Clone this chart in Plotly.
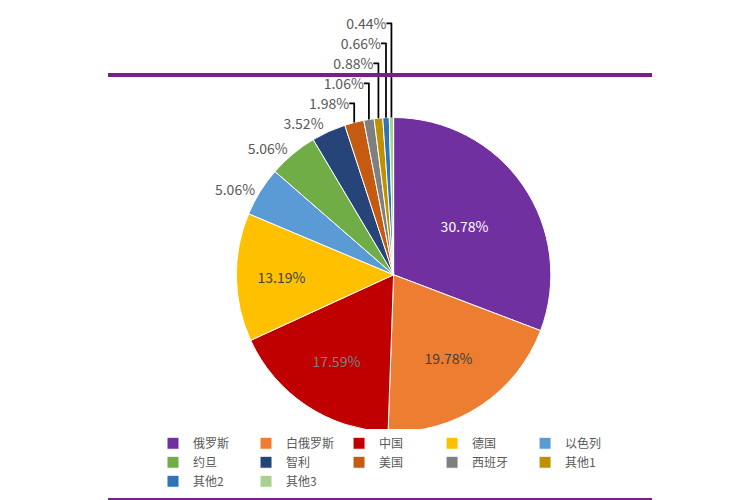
import plotly.graph_objects as go

# countries and shares (%)
countries = ["俄罗斯", "白俄罗斯", "中国", "德国", "以色列", "约旦", "智利", "美国", "西班牙", "其他1", "其他2", "其他3"]
shares = [30.78, 19.78, 17.59, 13.19, 5.06, 5.06, 3.52, 1.98, 1.06, 0.88, 0.66, 0.44]
colors = ["#7030a0", "#ed7d31", "#c00000", "#ffc000", "#5b9bd5", "#70ad47",
          "#264478", "#c55a11", "#7f7f7f", "#bf9000", "#2e75b6", "#a9d18e"]

text_pos = ["inside"] * 4 + ["outside"] * 8

fig = go.Figure(go.Pie(
    labels=countries,
    values=shares,
    sort=False,
    direction="clockwise",
    rotation=0,
    marker=dict(colors=colors, line=dict(color="white", width=1)),
    texttemplate="%{value:.2f}%",
    textposition=text_pos,
    textfont=dict(size=14, color=["white", "#404040", "#7f7f7f", "#404040"] + ["#595959"] * 8),
    domain=dict(x=[0.05, 1.0], y=[0.16, 0.9]),
    showlegend=True,
))

fig.update_layout(
    width=750, height=500,
    margin=dict(l=0, r=0, t=12, b=8),
    paper_bgcolor="white",
    font=dict(family="Noto Sans CJK SC", size=12, color="#595959"),
    legend=dict(orientation="h", x=0.5, xanchor="center", y=0.01, yanchor="bottom",
                font=dict(size=12), itemwidth=30, entrywidth=0),
    shapes=[
        dict(type="line", xref="paper", yref="paper", x0=0, x1=1, y0=1, y1=1,
             line=dict(color="#7a1f8a", width=4)),
        dict(type="line", xref="paper", yref="paper", x0=0, x1=1, y0=0, y1=0,
             line=dict(color="#7a1f8a", width=4)),
    ],
)

fig.write_html("out.html")
